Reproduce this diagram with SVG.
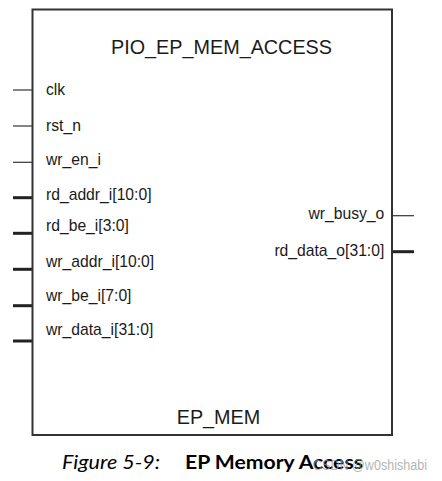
<svg xmlns="http://www.w3.org/2000/svg" width="442" height="481" viewBox="0 0 442 481">
<style>
.box{fill:#fff;stroke:#333;stroke-width:2}
.lbl{font-family:"Liberation Sans",Arial,sans-serif;font-size:15.7px;fill:#1a1a1a}
.ttl{font-family:"Liberation Sans",Arial,sans-serif;font-size:19.8px;fill:#1a1a1a;text-anchor:middle}
.thin{stroke:#333;stroke-width:1.2;fill:none}
.bus{stroke:#222;stroke-width:3;fill:none}
.cap{font-family:Lato,"Open Sans",sans-serif;font-size:18.5px;fill:#000}
.wm{font-family:"Liberation Sans",Arial,sans-serif;font-size:14px;fill:#999;fill-opacity:0.75}
</style>
<rect width="442" height="481" fill="#fff"/>
<g id="connectors">
<line class="thin" x1="13" y1="90" x2="32" y2="90"/>
<line class="thin" x1="13" y1="126" x2="32" y2="126"/>
<line class="thin" x1="13" y1="162.3" x2="32" y2="162.3"/>
<line class="bus" x1="13" y1="197.7" x2="32" y2="197.7"/>
<line class="bus" x1="13" y1="233.3" x2="32" y2="233.3"/>
<line class="bus" x1="13" y1="269.3" x2="32" y2="269.3"/>
<line class="bus" x1="13" y1="305.7" x2="32" y2="305.7"/>
<line class="bus" x1="13" y1="341" x2="32" y2="341"/>
<line class="thin" x1="393" y1="215.7" x2="414" y2="215.7"/>
<line class="bus" x1="393" y1="251.7" x2="414" y2="251.7"/>
</g>
<g id="pio_ep_mem_access">
<rect class="box" x="32.5" y="9.5" width="359.5" height="425.5"/>
<text class="ttl" x="221.5" y="54">PIO_EP_MEM_ACCESS</text>
<text class="ttl" x="218.5" y="423.5">EP_MEM</text>
<text class="lbl" x="46" y="94.5">clk</text>
<text class="lbl" x="46" y="130.5">rst_n</text>
<text class="lbl" x="46" y="164.5">wr_en_i</text>
<text class="lbl" x="46" y="200">rd_addr_i[10:0]</text>
<text class="lbl" x="46" y="231">rd_be_i[3:0]</text>
<text class="lbl" x="46" y="267">wr_addr_i[10:0]</text>
<text class="lbl" x="46" y="301">wr_be_i[7:0]</text>
<text class="lbl" x="46" y="335">wr_data_i[31:0]</text>
<text class="lbl" x="384.3" y="219" text-anchor="end">wr_busy_o</text>
<text class="lbl" x="384.3" y="256" text-anchor="end">rd_data_o[31:0]</text>
</g>
<g id="caption">
<text class="cap" x="62" y="469" font-style="italic" textLength="98" lengthAdjust="spacingAndGlyphs">Figure 5-9:</text>
<text class="cap" x="185" y="469" font-weight="bold" textLength="178" lengthAdjust="spacingAndGlyphs">EP Memory Access</text>
<text class="wm" x="313" y="470" textLength="114" lengthAdjust="spacingAndGlyphs">CSDN @w0shishabi</text>
</g>
</svg>
